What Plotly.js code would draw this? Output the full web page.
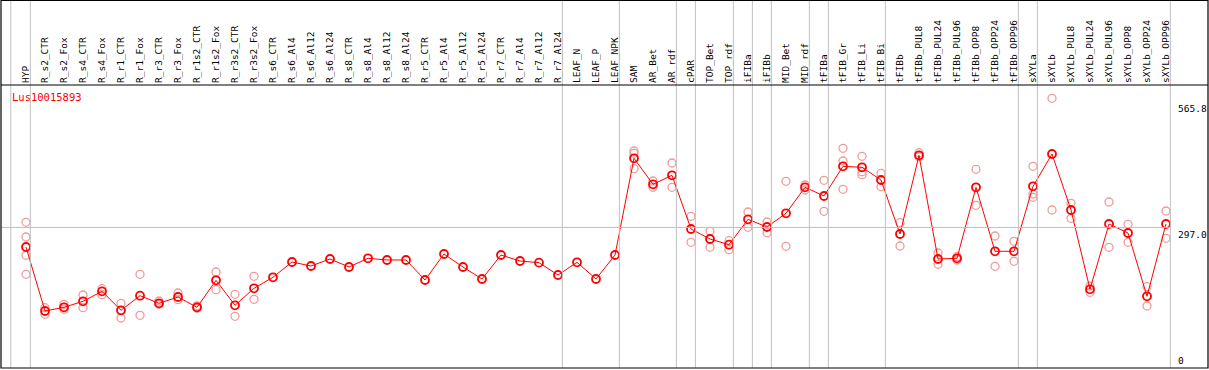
<!DOCTYPE html>
<html>
<head>
<meta charset="utf-8">
<script src="https://cdn.plot.ly/plotly-3.0.1.min.js"></script>
<style>html,body{margin:0;padding:0;background:#fff;}#chart{width:1209px;height:370px;}</style>
</head>
<body>
<div id="chart"></div>
<script>
const geneName = "Lus10015893";
const categories = ["HYP","R_s2_CTR","R_s2_Fox","R_s4_CTR","R_s4_Fox","R_r1_CTR","R_r1_Fox","R_r3_CTR","R_r3_Fox","R_r1s2_CTR","R_r1s2_Fox","R_r3s2_CTR","R_r3s2_Fox","R_s6_CTR","R_s6_Al4","R_s6_Al12","R_s6_Al24","R_s8_CTR","R_s8_Al4","R_s8_Al12","R_s8_Al24","R_r5_CTR","R_r5_Al4","R_r5_Al12","R_r5_Al24","R_r7_CTR","R_r7_Al4","R_r7_Al12","R_r7_Al24","LEAF_N","LEAF_P","LEAF_NPK","SAM","AR_Bet","AR_rdf","cPAR","TOP_Bet","TOP_rdf","iFIBa","iFIBb","MID_Bet","MID_rdf","tFIBa","tFIB_Gr","tFIB_Li","tFIB_Bi","tFIBb","tFIBb_PUL8","tFIBb_PUL24","tFIBb_PUL96","tFIBb_OPP8","tFIBb_OPP24","tFIBb_OPP96","sXYLa","sXYLb","sXYLb_PUL8","sXYLb_PUL24","sXYLb_PUL96","sXYLb_OPP8","sXYLb_OPP24","sXYLb_OPP96"];
const meanVals = [255.5,119.8,127.6,140.3,161.5,121.3,152.3,136.1,149.5,127.6,184.9,131.9,167.9,191.3,223.7,215.2,230.1,213.1,231.5,228,228,185.5,240.7,213.1,187.7,238.5,225.8,222.3,196.1,223,187.7,238.5,443.6,388.5,407.5,293.7,272.5,260.4,314.2,297.9,327,382.1,363.7,426.6,424.5,397.6,283.1,449.9,230.1,231.5,382.1,246.4,246.4,384.2,452.7,334,165.8,304.3,285.2,151,304.3];
const rep1 = [307.9,126.8,134,153.7,167.1,136.1,197.6,141,158,130.4,202.5,155.2,193.4,null,null,null,null,null,null,null,null,null,null,null,null,null,null,null,null,null,null,null,459.1,395.5,433.6,320.6,288.8,268.9,329.7,308.5,394.8,387,396.9,464.8,447.8,411.8,307,455.5,242.8,235,420.3,278.8,267.6,426.6,570.8,348.2,172.8,350.9,303.6,171.3,331.8];
const rep2 = [276.7,112.8,123.4,126.8,154.4,105,110.7,134,143.8,125.5,165,108.6,144.6,null,null,null,null,null,null,null,null,null,null,null,null,null,null,null,null,null,null,null,454.2,382.1,382.1,265.5,254.9,249.8,297.3,285.8,257,376.4,331.2,437.9,415.2,383.4,257.6,447,218.8,228,343.9,214.6,225.2,367.9,334,316.4,159.5,254.9,265.5,130.4,274];
const rep3 = [237.9,null,null,null,null,null,null,null,null,null,null,null,null,null,null,null,null,null,null,null,null,null,null,null,null,null,null,null,null,null,null,null,421.5,null,null,null,null,null,null,null,null,null,null,377.9,408.8,null,null,null,null,null,null,null,null,360.9,null,null,null,null,null,null,null];
const rep4 = [197.6,null,null,null,null,null,null,null,null,null,null,null,null,null,null,null,null,null,null,null,null,null,null,null,null,null,null,null,null,null,null,null,null,null,null,null,null,null,null,null,null,null,null,null,null,null,null,null,null,null,null,null,null,null,null,null,null,null,null,null,null];
const yTickVals = [0, 297.0, 565.8];
const yTickText = ["0", "297.0", "565.8"];
const groupEnds = [0, 28, 31, 34, 35, 37, 38, 39, 41, 42, 45, 52, 53, 60];

const idx = categories.map((c, i) => i);
const pink = '#f09a9a';
const mono = 'DejaVu Sans Mono, monospace';

const repTraces = [rep1, rep2, rep3, rep4].map(r => ({
  x: idx, y: r, type: 'scatter', mode: 'markers', hoverinfo: 'skip',
  marker: {symbol: 'circle-open', size: 8, color: pink, line: {width: 1.3, color: pink}},
  showlegend: false, cliponaxis: false
}));
const meanTrace = {
  x: idx, y: meanVals, type: 'scatter', mode: 'lines+markers',
  line: {color: '#ff0000', width: 1},
  marker: {symbol: 'circle-open', size: 8, color: '#ff0000', line: {width: 1.8, color: '#ff0000'}},
  showlegend: false, cliponaxis: false
};

// geometry
const W = 1209, H = 370, mL = 1, mR = 1, mT = 86, mB = 2;
const plotH = H - mT - mB;
const topPaper = 1 + (mT - 0.5) / plotH;

const shapes = [];
// horizontal gridline at middle tick
shapes.push({type: 'line', xref: 'x', yref: 'y', x0: -1.32, x1: groupEnds[groupEnds.length - 1] + 0.22,
  y0: yTickVals[1], y1: yTickVals[1], line: {color: '#c0c0c0', width: 1}});
// vertical group separators
[-0.8].concat(groupEnds.map(g => g + 0.23)).forEach(xv => {
  shapes.push({type: 'line', xref: 'x', yref: 'paper', x0: xv, x1: xv, y0: 0, y1: topPaper, line: {color: '#c0c0c0', width: 1}});
});
// header separator and border
shapes.push({type: 'line', xref: 'paper', yref: 'paper', x0: 0, x1: 1, y0: 1 + 1 / plotH, y1: 1 + 1 / plotH, line: {color: '#000', width: 1.2}});
shapes.push({type: 'rect', xref: 'paper', yref: 'paper', x0: 0, x1: 1, y0: 0, y1: topPaper, line: {color: '#000', width: 1.2}});

const annotations = [];
annotations.push({text: geneName, xref: 'paper', yref: 'paper', x: 9 / (W - mL - mR), y: (368 - 97) / plotH,
  xanchor: 'left', yanchor: 'middle', showarrow: false, font: {family: mono, size: 10.5, color: '#ff0000'}});
yTickVals.forEach((v, k) => {
  annotations.push({text: yTickText[k], xref: 'paper', yref: 'y', x: (1176 - mL) / (W - mL - mR), y: v,
    xanchor: 'left', yanchor: k === 0 ? 'bottom' : 'top', showarrow: false,
    font: {family: mono, size: 9.5, color: '#000'}});
});

const px2i = p => (p - 26) / 19;
const layout = {
  width: W, height: H,
  margin: {l: mL, r: mR, t: mT, b: mB, pad: 0},
  paper_bgcolor: '#fff', plot_bgcolor: '#fff',
  showlegend: false,
  xaxis: {
    range: [px2i(mL), px2i(W - mR)], side: 'top', tickmode: 'array', tickvals: idx, ticktext: categories,
    tickangle: -90, ticks: '', showgrid: false, zeroline: false, showline: false,
    tickfont: {family: mono, size: 9.5, color: '#000'}, ticklabelstandoff: 2
  },
  yaxis: {
    range: [-(368 - 367.5) / 0.4716, (367.5 - mT) / 0.4716], showticklabels: false, ticks: '',
    showgrid: false, zeroline: false, showline: false
  },
  shapes: shapes,
  annotations: annotations
};

Plotly.newPlot('chart', repTraces.concat([meanTrace]), layout, {staticPlot: true, displayModeBar: false});
</script>
</body>
</html>
